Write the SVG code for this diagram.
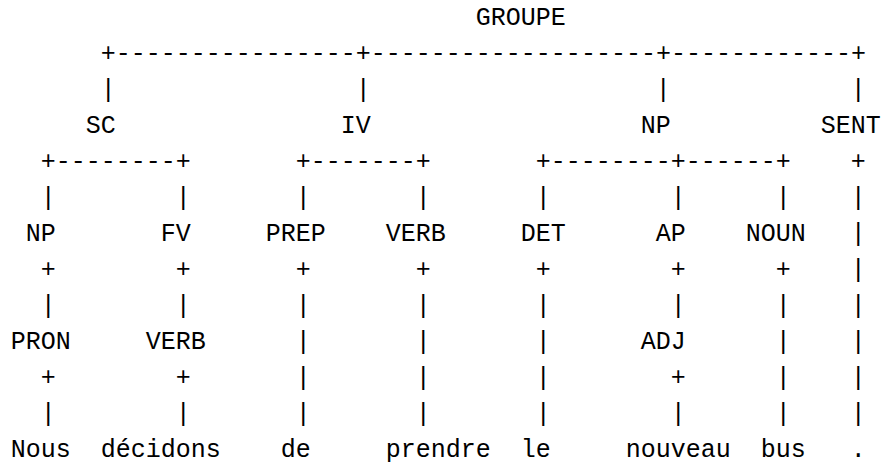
<svg xmlns="http://www.w3.org/2000/svg" width="882" height="465" viewBox="0 0 882 465">
<style>
text{font-family:"Liberation Mono","DejaVu Sans Mono",monospace;font-size:25px;fill:#000}
</style>
<rect x="0" y="0" width="882" height="465" fill="#fff"/>
<g id="connectors">
<text x="100.8" y="61">+----------------+-------------------+------------+</text>
<text x="100.8" y="97">|</text><text x="355.8" y="97">|</text><text x="655.8" y="97">|</text><text x="850.8" y="97">|</text>
<text x="40.8" y="169">+--------+</text>
<text x="295.8" y="169">+-------+</text>
<text x="535.8" y="169">+--------+------+</text>
<text x="850.8" y="169">+</text>
<text x="40.8" y="205">|</text><text x="175.8" y="205">|</text><text x="295.8" y="205">|</text><text x="415.8" y="205">|</text><text x="535.8" y="205">|</text><text x="670.8" y="205">|</text><text x="775.8" y="205">|</text><text x="850.8" y="205">|</text>
<text x="850.8" y="241">|</text>
<text x="40.8" y="277">+</text><text x="175.8" y="277">+</text><text x="295.8" y="277">+</text><text x="415.8" y="277">+</text><text x="535.8" y="277">+</text><text x="670.8" y="277">+</text><text x="775.8" y="277">+</text><text x="850.8" y="277">|</text>
<text x="40.8" y="313">|</text><text x="175.8" y="313">|</text><text x="295.8" y="313">|</text><text x="415.8" y="313">|</text><text x="535.8" y="313">|</text><text x="670.8" y="313">|</text><text x="775.8" y="313">|</text><text x="850.8" y="313">|</text>
<text x="295.8" y="349">|</text><text x="415.8" y="349">|</text><text x="535.8" y="349">|</text><text x="775.8" y="349">|</text><text x="850.8" y="349">|</text>
<text x="40.8" y="385">+</text><text x="175.8" y="385">+</text><text x="295.8" y="385">|</text><text x="415.8" y="385">|</text><text x="535.8" y="385">|</text><text x="670.8" y="385">+</text><text x="775.8" y="385">|</text><text x="850.8" y="385">|</text>
<text x="40.8" y="421">|</text><text x="175.8" y="421">|</text><text x="295.8" y="421">|</text><text x="415.8" y="421">|</text><text x="535.8" y="421">|</text><text x="670.8" y="421">|</text><text x="775.8" y="421">|</text><text x="850.8" y="421">|</text>
</g>
<g id="n-groupe"><text x="475.8" y="25">GROUPE</text></g>
<g id="n-sc"><text x="85.8" y="133">SC</text></g>
<g id="n-iv"><text x="340.8" y="133">IV</text></g>
<g id="n-np1"><text x="640.8" y="133">NP</text></g>
<g id="n-sent"><text x="820.8" y="133">SENT</text></g>
<g id="n-np2"><text x="25.8" y="241">NP</text></g>
<g id="n-fv"><text x="160.8" y="241">FV</text></g>
<g id="n-prep"><text x="265.8" y="241">PREP</text></g>
<g id="n-verb1"><text x="385.8" y="241">VERB</text></g>
<g id="n-det"><text x="520.8" y="241">DET</text></g>
<g id="n-ap"><text x="655.8" y="241">AP</text></g>
<g id="n-noun"><text x="745.8" y="241">NOUN</text></g>
<g id="n-pron"><text x="10.8" y="349">PRON</text></g>
<g id="n-verb2"><text x="145.8" y="349">VERB</text></g>
<g id="n-adj"><text x="640.8" y="349">ADJ</text></g>
<g id="w-nous"><text x="10.8" y="457">Nous</text></g>
<g id="w-decidons"><text x="100.8" y="457">décidons</text></g>
<g id="w-de"><text x="280.8" y="457">de</text></g>
<g id="w-prendre"><text x="385.8" y="457">prendre</text></g>
<g id="w-le"><text x="520.8" y="457">le</text></g>
<g id="w-nouveau"><text x="625.8" y="457">nouveau</text></g>
<g id="w-bus"><text x="760.8" y="457">bus</text></g>
<g id="w-dot"><text x="850.8" y="457">.</text></g>
</svg>
